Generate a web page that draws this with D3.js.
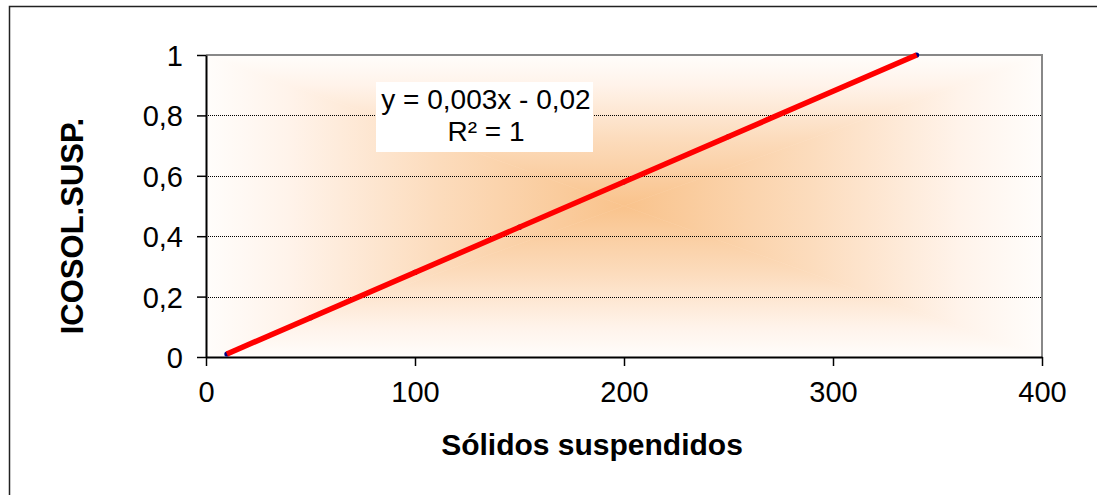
<!DOCTYPE html>
<html>
<head>
<meta charset="utf-8">
<script src="https://cdn.jsdelivr.net/npm/d3@7"></script>
<style>
  body { margin: 0; background: #fff; }
  text { font-family: "Liberation Sans", Arial, sans-serif; }
</style>
</head>
<body>
<div id="canvas"></div>
<script>
"use strict";

/* Data */
let solidos = [10, 50, 100, 150, 200, 250, 340];
let icosol = [0.01, 0.13, 0.28, 0.43, 0.58, 0.73, 1.0];
let xTicks = [0, 100, 200, 300, 400];
let yTicks = [0, 0.2, 0.4, 0.6, 0.8, 1];
let xTitle = "Sólidos suspendidos";
let yTitle = "ICOSOL.SUSP.";

/* Drawing config */
let svgWidth = 1097;
let svgHeight = 495;
let plot = { left: 206, top: 55, right: 1042, bottom: 357 };

let svg = d3.select("#canvas")
  .append("svg")
  .attr("width", svgWidth)
  .attr("height", svgHeight);

/* Outer chart border (runs off the bottom/right) */
svg.append("rect")
  .attr("x", 9.5)
  .attr("y", 6.5)
  .attr("width", 1200)
  .attr("height", 600)
  .attr("fill", "#fff")
  .attr("stroke", "#222")
  .attr("stroke-width", 1.5);

let xScale = d3.scaleLinear().domain([0, 400]).range([plot.left, plot.right]);
let yScale = d3.scaleLinear().domain([0, 1]).range([plot.bottom, plot.top]);

/* Plot background: rectangular "from center" gradient, built from 4 triangles */
let cx = (plot.left + plot.right) / 2;
let cy = (plot.top + plot.bottom) / 2;
let defs = svg.append("defs");
let parts = [
  { id: "gTop", pts: [[plot.left, plot.top], [plot.right, plot.top]], g: [cx, cy, cx, plot.top] },
  { id: "gBot", pts: [[plot.left, plot.bottom], [plot.right, plot.bottom]], g: [cx, cy, cx, plot.bottom] },
  { id: "gLeft", pts: [[plot.left, plot.top], [plot.left, plot.bottom]], g: [cx, cy, plot.left, cy] },
  { id: "gRight", pts: [[plot.right, plot.top], [plot.right, plot.bottom]], g: [cx, cy, plot.right, cy] }
];
parts.forEach(p => {
  let lg = defs.append("linearGradient")
    .attr("id", p.id)
    .attr("gradientUnits", "userSpaceOnUse")
    .attr("x1", p.g[0]).attr("y1", p.g[1])
    .attr("x2", p.g[2]).attr("y2", p.g[3]);
  lg.append("stop").attr("offset", "0").attr("stop-color", "#f9c38c");
  lg.append("stop").attr("offset", "0.45").attr("stop-color", "#fcdcbd");
  lg.append("stop").attr("offset", "0.8").attr("stop-color", "#fff3ea");
  lg.append("stop").attr("offset", "1").attr("stop-color", "#fffdfb");
  svg.append("path")
    .attr("d", "M" + p.pts[0].join(",") + "L" + p.pts[1].join(",") + "L" + cx + "," + cy + "Z")
    .attr("fill", "url(#" + p.id + ")")
    .attr("stroke", "url(#" + p.id + ")")
    .attr("stroke-width", 0.6);
});

/* Gridlines */
svg.selectAll(".grid")
  .data(yTicks.filter(d => d > 0 && d < 1))
  .enter()
  .append("line")
  .attr("x1", plot.left)
  .attr("x2", plot.right)
  .attr("y1", d => Math.round(yScale(d)) + 0.5)
  .attr("y2", d => Math.round(yScale(d)) + 0.5)
  .attr("stroke", "#000")
  .attr("stroke-width", 1)
  .attr("stroke-dasharray", "1,1");

/* Plot border top/right */
svg.append("path")
  .attr("d", "M" + plot.left + "," + plot.top + "H" + plot.right + "V" + plot.bottom)
  .attr("fill", "none")
  .attr("stroke", "#888")
  .attr("stroke-width", 2);

/* Axes */
let xAxis = d3.axisBottom(xScale)
  .tickValues(xTicks)
  .tickSizeInner(9)
  .tickSizeOuter(0)
  .tickPadding(15)
  .tickFormat(d3.format("d"));

let yAxis = d3.axisLeft(yScale)
  .tickValues(yTicks)
  .tickSizeInner(9)
  .tickSizeOuter(0)
  .tickPadding(14)
  .tickFormat(d => String(d).replace(".", ","));

let gx = svg.append("g")
  .attr("transform", "translate(0," + plot.bottom + ")")
  .call(xAxis);
let gy = svg.append("g")
  .attr("transform", "translate(" + plot.left + ",0)")
  .call(yAxis);

[gx, gy].forEach(g => {
  g.select(".domain").attr("stroke", "#000").attr("stroke-width", 2);
  g.selectAll(".tick line").attr("stroke", "#000").attr("stroke-width", 1.5);
  g.selectAll(".tick text")
    .attr("fill", "#000")
    .attr("font-size", "29px")
    .attr("font-family", "Liberation Sans, Arial, sans-serif");
});
gy.selectAll(".tick text").attr("dy", "0.36em");

/* Data markers */
let points = solidos.map((x, i) => ({ x: x, y: icosol[i] }));

svg.selectAll(".pt")
  .data(points)
  .enter()
  .append("circle")
  .attr("cx", d => xScale(d.x))
  .attr("cy", d => yScale(d.y))
  .attr("r", 2.6)
  .attr("fill", "#000080");

/* Linear trendline (least squares from the points) */
let mx = d3.mean(points, d => d.x);
let my = d3.mean(points, d => d.y);
let slope = d3.sum(points, d => (d.x - mx) * (d.y - my)) / d3.sum(points, d => (d.x - mx) * (d.x - mx));
let intercept = my - slope * mx;
let xEnds = d3.extent(solidos);

svg.append("line")
  .attr("x1", xScale(xEnds[0]))
  .attr("y1", yScale(slope * xEnds[0] + intercept))
  .attr("x2", xScale(xEnds[1]))
  .attr("y2", yScale(slope * xEnds[1] + intercept))
  .attr("stroke", "#ff0000")
  .attr("stroke-width", 5.5);

/* Equation label */
svg.append("rect")
  .attr("x", 376)
  .attr("y", 82)
  .attr("width", 217)
  .attr("height", 70)
  .attr("fill", "#fff");

svg.append("text")
  .attr("x", 486)
  .attr("y", 109)
  .attr("text-anchor", "middle")
  .attr("font-size", "28px")
  .text("y = 0,003x - 0,02");

svg.append("text")
  .attr("x", 486)
  .attr("y", 141)
  .attr("text-anchor", "middle")
  .attr("font-size", "28px")
  .text("R² = 1");

/* Axis titles */
svg.append("text")
  .attr("x", 592)
  .attr("y", 455)
  .attr("text-anchor", "middle")
  .attr("font-size", "30px")
  .attr("font-weight", "bold")
  .text(xTitle);

svg.append("text")
  .attr("transform", "translate(83,226) rotate(-90)")
  .attr("text-anchor", "middle")
  .attr("font-size", "31px")
  .attr("font-weight", "bold")
  .text(yTitle);
</script>
</body>
</html>
